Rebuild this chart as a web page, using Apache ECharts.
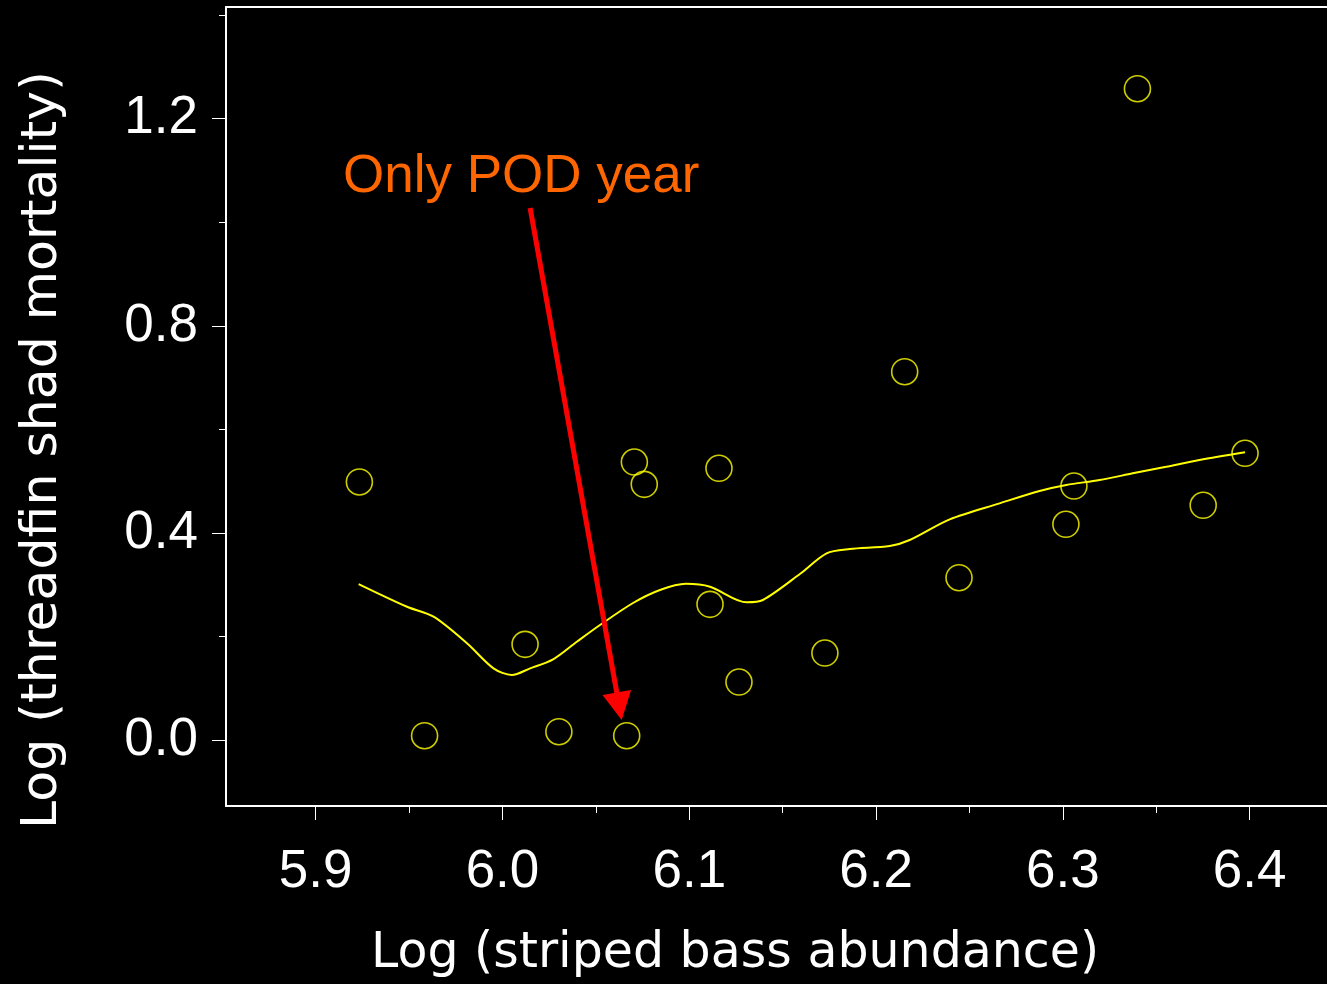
<!DOCTYPE html>
<html>
<head>
<meta charset="utf-8">
<script src="https://cdn.jsdelivr.net/npm/echarts@6/dist/echarts.min.js"></script>
<style>
  html, body { margin: 0; padding: 0; background: #000; overflow: hidden; }
  /* the plot frame runs slightly past the right edge of the window */
  #chart { width: 1340px; height: 984px; }
</style>
</head>
<body>
<div id="chart"></div>
<script>
// Observed years: log striped bass abundance vs log threadfin shad mortality
const bassAbundance = [5.9234, 5.9583, 6.0121, 6.0302, 6.0665, 6.0706, 6.0759, 6.1159, 6.1111,
                       6.1266, 6.1726, 6.2153, 6.2444, 6.3016, 6.3059, 6.3399, 6.3751, 6.3975];
const shadMortality = [0.4987, 0.0089, 0.1853, 0.0166, 0.0089, 0.5373, 0.4942, 0.5251, 0.2625,
                       0.1125, 0.1685, 0.7116, 0.3139, 0.4170, 0.4909, 1.2579, 0.4537, 0.5541];

// Smoothed (lowess) trend
const trendX = [5.9230, 5.9489, 5.9631, 5.9810, 5.9952, 6.0050, 6.0148, 6.0271, 6.0398, 6.0522,
                6.0699, 6.0843, 6.0982, 6.1111, 6.1307, 6.1394, 6.1592, 6.1735, 6.1859, 6.2073,
                6.2180, 6.2394, 6.2661, 6.2875, 6.3018, 6.3196, 6.3374, 6.3553, 6.3731, 6.3975];
const trendY = [0.3017, 0.2579, 0.2386, 0.1873, 0.1390, 0.1261, 0.1390, 0.1564, 0.1903, 0.2226,
                0.2651, 0.2902, 0.3021, 0.2965, 0.2664, 0.2709, 0.3210, 0.3610, 0.3693, 0.3751,
                0.3867, 0.4266, 0.4575, 0.4813, 0.4929, 0.5025, 0.5154, 0.5282, 0.5411, 0.5560];

// Axis ticks
const xMajorTicks = [5.9, 6.0, 6.1, 6.2, 6.3, 6.4];
const xMinorTicks = [5.95, 6.05, 6.15, 6.25, 6.35];
const yMajorTicks = [0.0, 0.4, 0.8, 1.2];
const yMinorTicks = [0.2, 0.6, 1.0, 1.4];

// Annotation arrow (data units): from under the label down to the POD year
const arrowFrom = [6.0148, 1.0276];
const arrowTo = [6.0625, 0.0658];
const annotationText = 'Only POD year';

const xTitle = 'Log (striped bass abundance)';
const yTitle = 'Log (threadfin shad mortality)';

const points = bassAbundance.map((x, i) => [x, shadMortality[i]]);
const trend = trendX.map((x, i) => [x, trendY[i]]);

const labelFont = { color: '#ffffff', fontSize: 53, fontFamily: '"Liberation Sans", Arial, sans-serif' };
const titleFont = '"Comic Sans MS", "DejaVu Sans", sans-serif';

const xRange = { min: 5.852, max: 6.4478 };
const yRange = { min: -0.1268, max: 1.4157 };

const chart = echarts.init(document.getElementById('chart'), null, { renderer: 'canvas' });

chart.setOption({
  backgroundColor: '#000000',
  animation: false,
  grid: {
    left: 226, top: 7, right: 1, bottom: 178,
    show: true, borderColor: '#ffffff', borderWidth: 2, backgroundColor: 'transparent'
  },
  xAxis: [
    {
      type: 'value', position: 'bottom', ...xRange,
      axisLine: { show: false, onZero: false },
      splitLine: { show: false },
      axisTick: { show: true, customValues: xMajorTicks, length: 14, lineStyle: { color: '#ffffff', width: 1 } },
      axisLabel: { show: true, customValues: xMajorTicks, margin: 40, ...labelFont,
                   formatter: v => v.toFixed(1) }
    },
    {
      type: 'value', position: 'bottom', ...xRange,
      axisLine: { show: false, onZero: false },
      splitLine: { show: false },
      axisTick: { show: true, customValues: xMinorTicks, length: 7, lineStyle: { color: '#ffffff', width: 1 } },
      axisLabel: { show: false }
    }
  ],
  yAxis: [
    {
      type: 'value', position: 'left', ...yRange,
      axisLine: { show: false, onZero: false },
      splitLine: { show: false },
      axisTick: { show: true, customValues: yMajorTicks, length: 14, lineStyle: { color: '#ffffff', width: 1 } },
      axisLabel: { show: true, customValues: yMajorTicks, margin: 28, ...labelFont,
                   formatter: v => v.toFixed(1) }
    },
    {
      type: 'value', position: 'left', ...yRange,
      axisLine: { show: false, onZero: false },
      splitLine: { show: false },
      axisTick: { show: true, customValues: yMinorTicks, length: 7, lineStyle: { color: '#ffffff', width: 1 } },
      axisLabel: { show: false }
    }
  ],
  graphic: [
    {
      type: 'text', left: 343, top: 151, silent: true,
      style: { text: annotationText, fill: '#FF6600', fontSize: 53,
               fontFamily: '"Liberation Sans", Arial, sans-serif' }
    },
    {
      type: 'text', x: 735, y: 954, silent: true,
      style: { text: xTitle, fill: '#ffffff', fontSize: 49, fontFamily: titleFont,
               align: 'center', verticalAlign: 'middle' }
    },
    {
      type: 'text', x: 43, y: 450, rotation: Math.PI / 2, silent: true,
      style: { text: yTitle, fill: '#ffffff', fontSize: 50.5, fontFamily: titleFont,
               align: 'center', verticalAlign: 'middle' }
    }
  ],
  series: [
    {
      type: 'line', name: 'trend', data: trend,
      xAxisIndex: 0, yAxisIndex: 0,
      smooth: 0.3, symbol: 'none', silent: true,
      lineStyle: { color: '#FFFF00', width: 2 },
      z: 2
    },
    {
      type: 'scatter', name: 'years', data: points,
      xAxisIndex: 0, yAxisIndex: 0,
      symbol: 'circle', symbolSize: 26, silent: true,
      itemStyle: { color: 'transparent', borderColor: '#FFFF00', borderWidth: 1.6 },
      z: 3
    },
    {
      type: 'line', name: 'annotation', data: [],
      xAxisIndex: 0, yAxisIndex: 0,
      silent: true,
      markLine: {
        silent: true, animation: false,
        symbol: ['none', 'triangle'], symbolSize: [29, 28],
        label: { show: false },
        lineStyle: { color: '#FF0000', width: 5, type: 'solid' },
        emphasis: { disabled: true },
        data: [[{ coord: arrowFrom }, { coord: arrowTo }]]
      },
      z: 4
    }
  ]
});
</script>
</body>
</html>
